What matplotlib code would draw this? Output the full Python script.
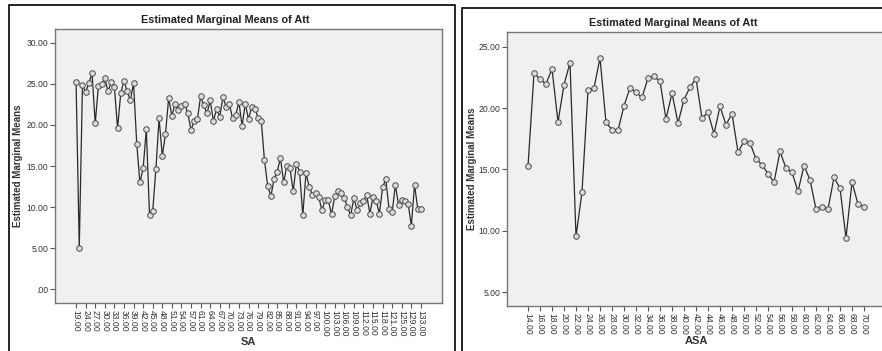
import matplotlib
matplotlib.use("Agg")
from matplotlib import pyplot as plt
from matplotlib.patches import Rectangle

plt.rcParams['font.family'] = ['Liberation Sans', 'DejaVu Sans']

# Lijevi graf: SA kategorije i procijenjene srednje vrijednosti
sa_values = [19, 21, 23, 24, 25, 26, 27, 28, 29, 30, 31, 32, 33, 34, 35, 36, 37, 38, 39,
             40, 41, 42, 43, 44, 45, 46, 47, 48, 49, 50, 51, 52, 53, 54, 55, 56, 57, 58,
             60, 61, 62, 63, 64, 65, 66, 67, 68, 69, 70, 71, 72, 73, 74, 75, 76, 77, 78,
             79, 80, 81, 82, 83, 84, 85, 86, 87, 88, 89, 90, 91, 92, 93, 94, 95, 96, 97,
             98, 99, 100, 101, 102, 103, 104, 105, 106, 107, 108, 109, 110, 111, 112, 113,
             114, 115, 116, 117, 118, 119, 120, 121, 122, 124, 125, 126, 128, 129, 130,
             132, 133]
sa_means = [25.2, 5.0, 24.9, 24.0, 25.1, 26.3, 20.2, 24.8, 25.0, 25.7, 24.1, 25.2, 24.6,
            19.6, 23.9, 25.4, 24.1, 23.0, 25.1, 17.7, 13.0, 14.7, 19.5, 9.0, 9.5, 14.6,
            20.8, 16.2, 18.9, 23.3, 21.1, 22.6, 21.8, 22.3, 22.6, 21.4, 19.4, 20.5, 20.7,
            23.5, 22.4, 21.4, 23.0, 20.5, 21.9, 21.0, 23.4, 22.2, 22.6, 20.8, 21.2, 22.8,
            19.9, 22.6, 20.7, 22.2, 22.0, 20.9, 20.5, 15.7, 12.6, 11.3, 13.4, 14.3, 16.0,
            13.0, 15.0, 14.7, 11.9, 15.3, 14.3, 9.0, 14.1, 12.5, 11.5, 11.7, 11.2, 9.6,
            10.9, 10.8, 9.1, 11.3, 11.9, 11.7, 11.1, 10.0, 9.0, 11.1, 9.6, 10.5, 10.7,
            11.5, 9.2, 11.2, 10.7, 9.2, 12.4, 13.4, 9.8, 9.4, 12.7, 10.2, 10.9, 10.7,
            10.4, 7.7, 12.7, 9.8, 9.8]

# Desni graf: ASA kategorije
asa_values = [14, 15, 16, 17, 18, 19, 20, 21, 22, 23, 24, 25, 26, 27, 28, 29, 30, 31, 32,
              33, 34, 35, 36, 37, 38, 39, 40, 41, 42, 43, 44, 45, 46, 47, 48, 49, 50, 51,
              52, 53, 54, 55, 56, 57, 58, 59, 60, 61, 62, 63, 64, 65, 66, 67, 68, 69, 70]
asa_means = [15.24, 22.85, 22.36, 21.96, 23.2, 18.86, 21.9, 23.7, 9.53, 13.15, 21.44,
             21.63, 24.08, 18.83, 18.23, 18.17, 20.19, 21.63, 21.27, 20.86, 22.45, 22.58,
             22.17, 19.1, 21.22, 18.78, 20.68, 21.71, 22.39, 19.18, 19.64, 17.9, 20.13,
             18.64, 19.54, 16.41, 17.28, 17.15, 15.86, 15.37, 14.64, 13.96, 16.46, 15.1,
             14.75, 13.2, 15.3, 14.15, 11.76, 11.93, 11.76, 14.34, 13.47, 9.4, 13.96,
             12.17, 11.97]

sa_yticks = [0, 5, 10, 15, 20, 25, 30]
sa_ylabels = ['.00', '5.00', '10.00', '15.00', '20.00', '25.00', '30.00']
asa_yticks = [5, 10, 15, 20, 25]
asa_ylabels = ['5.00', '10.00', '15.00', '20.00', '25.00']

W, H = 882, 351
fig = plt.figure(figsize=(W / 100, H / 100), dpi=100)


def panel(rect, cats, means, step, xlim, ylim, yticks, ylabels, xname):
    ax = fig.add_axes(rect)
    pos = list(range(len(cats)))
    ax.plot(pos, means, color='#2a2a2a', lw=0.9, marker='o', ms=4.0,
            mfc='#dcdcdc', mec='#4a4a4a', mew=0.7, zorder=3)
    ax.set_facecolor('#f0f0f0')
    ax.set_xlim(*xlim)
    ax.set_ylim(*ylim)
    ax.set_yticks(yticks)
    ax.set_yticklabels(ylabels)
    ax.set_xticks(pos[::step])
    ax.set_xticklabels([f"{c:.2f}" for c in cats[::step]], rotation=270)
    ax.tick_params(axis='both', length=3.5, width=0.8, color='#555555',
                   labelsize=6.2, labelcolor='#333333', pad=1.2)
    for s in ax.spines.values():
        s.set_color('#777777')
        s.set_linewidth(1.0)
    ax.set_xlabel(xname, fontsize=8, fontweight='bold', color='#333333')
    ax.set_ylabel('Estimated Marginal Means', fontsize=7, fontweight='bold', color='#333333')
    return ax


ax1 = panel([55 / W, 1 - 303 / H, 387 / W, 274 / H], sa_values, sa_means, 3,
            (-6.6, 114.6), (-1.7, 31.7), sa_yticks, sa_ylabels, 'SA')
ax1.yaxis.set_label_coords(-0.083, 0.5)
ax1.xaxis.set_label_coords(0.5, -0.125)

ax2 = panel([507 / W, 1 - 306 / H, 378 / W, 274 / H], asa_values, asa_means, 2,
            (-3.5, 59.5), (3.86, 26.2), asa_yticks, asa_ylabels, 'ASA')
ax2.yaxis.set_label_coords(-0.08, 0.5)
ax2.xaxis.set_label_coords(0.5, -0.11)

fig.text(225 / W, 1 - 20 / H, 'Estimated Marginal Means of Att', ha='center', va='center',
         fontsize=7.8, fontweight='bold', color='#222222')
fig.text(673 / W, 1 - 23 / H, 'Estimated Marginal Means of Att', ha='center', va='center',
         fontsize=7.8, fontweight='bold', color='#222222')

# okviri panela
fig.add_artist(Rectangle((9 / W, -0.1), 446 / W, 1.1 - 5 / H, transform=fig.transFigure,
                         fill=False, ec='black', lw=1.2))
fig.add_artist(Rectangle((462 / W, -0.1), 0.6, 1.1 - 8 / H, transform=fig.transFigure,
                         fill=False, ec='black', lw=1.2))

plt.savefig('out.png', dpi=100)
